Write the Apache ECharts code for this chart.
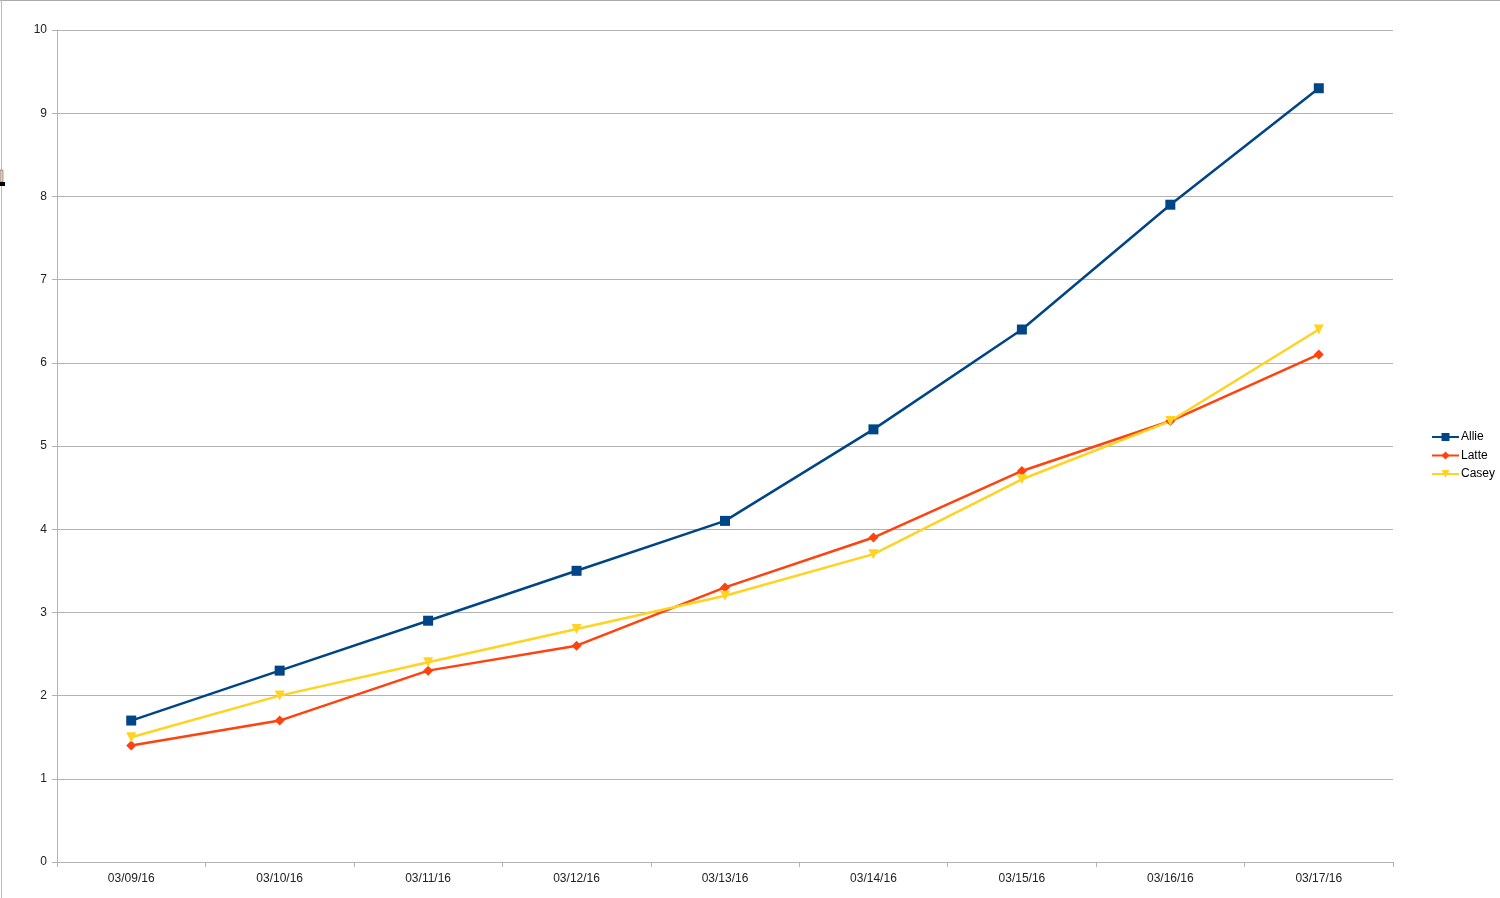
<!DOCTYPE html>
<html><head><meta charset="utf-8">
<script src="https://cdn.jsdelivr.net/npm/echarts@6/dist/echarts.min.js"></script>
<style>html,body{margin:0;padding:0;background:#fff}#c{width:1500px;height:898px}</style>
</head><body><div id="c"></div>
<script>
const categories = ['03/09/16','03/10/16','03/11/16','03/12/16','03/13/16','03/14/16','03/15/16','03/16/16','03/17/16'];
const allie = [1.7, 2.3, 2.9, 3.5, 4.1, 5.2, 6.4, 7.9, 9.3];
const latte = [1.4, 1.7, 2.3, 2.6, 3.3, 3.9, 4.7, 5.3, 6.1];
const casey = [1.5, 2.0, 2.4, 2.8, 3.2, 3.7, 4.6, 5.3, 6.4];
const yTicks = {min: 0, max: 10, interval: 1};

const font = 'Liberation Sans';
const chart = echarts.init(document.getElementById('c'), null, {renderer: 'canvas'});
function s(name, data, color, symbol, size, rot) {
  return {name, type: 'line', data, color, symbol, symbolSize: size, symbolRotate: rot || 0, showAllSymbol: true,
    lineStyle: {color, width: 2.5}, itemStyle: {color}, animation: false};
}
chart.setOption({
  animation: false,
  textStyle: {fontFamily: font},
  grid: {left: 57, right: 107, top: 30, bottom: 36, containLabel: false},
  legend: {
    orient: 'vertical', left: 1426, top: 426, itemWidth: 27, itemHeight: 10, itemGap: 6.5,
    textStyle: {fontFamily: font, fontSize: 12, color: '#000', padding: [0, 0, 0, -3]},
    data: ['Allie', 'Latte', 'Casey']
  },
  xAxis: {
    type: 'category', data: categories, boundaryGap: true,
    axisLine: {lineStyle: {color: '#b3b3b3', width: 1}},
    axisTick: {show: true, length: 5, lineStyle: {color: '#b3b3b3'}, interval: 0},
    axisLabel: {fontFamily: font, fontSize: 12, color: '#222', margin: 11, interval: 0},
    splitLine: {show: false}
  },
  yAxis: {
    type: 'value', min: yTicks.min, max: yTicks.max, interval: yTicks.interval,
    axisLine: {show: true, lineStyle: {color: '#b3b3b3', width: 1}},
    axisTick: {show: true, length: 5, lineStyle: {color: '#b3b3b3'}},
    axisLabel: {fontFamily: font, fontSize: 12, color: '#222', margin: 10},
    splitLine: {show: true, lineStyle: {color: '#b3b3b3', width: 1}}
  },
  graphic: [
    {type: 'line', shape: {x1: 0, y1: 0.5, x2: 1500, y2: 0.5}, style: {stroke: '#aaa', lineWidth: 1}},
    {type: 'line', shape: {x1: 1.5, y1: 0, x2: 1.5, y2: 898}, style: {stroke: '#bbb', lineWidth: 1}},
    {type: 'rect', shape: {x: 0, y: 170, width: 3, height: 12}, style: {fill: '#e8c8b8', stroke: '#555', lineWidth: 0.5}},
    {type: 'rect', shape: {x: 0, y: 182, width: 5, height: 4}, style: {fill: '#000'}}
  ],
  series: [
    s('Allie', allie, '#004586', 'rect', 10),
    s('Latte', latte, '#ff420e', 'diamond', 10),
    s('Casey', casey, '#ffd320', 'triangle', 10, 180)
  ]
});
</script></body></html>
